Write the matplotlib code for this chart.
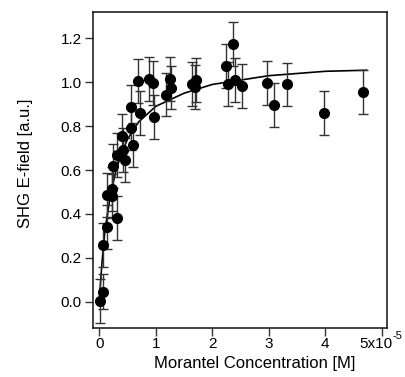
import matplotlib
matplotlib.use("Agg")
import matplotlib.pyplot as plt
import matplotlib.transforms as mtransforms

plt.rcParams['font.family'] = ['Liberation Sans', 'DejaVu Sans']

# Morantel concentration in units of 1e-5 M
conc = [0.01, 0.07, 0.07, 0.13, 0.13, 0.22, 0.23, 0.25, 0.32, 0.31,
        0.41, 0.43, 0.45, 0.555, 0.57, 0.59, 0.69, 0.72, 0.885, 0.945,
        0.968, 1.18, 1.25, 1.27, 1.635, 1.69, 1.72, 2.25, 2.28, 2.37,
        2.40, 2.53, 2.97, 3.10, 3.33, 3.98, 4.67]
shg = [0.003, 0.045, 0.257, 0.342, 0.485, 0.515, 0.48, 0.617, 0.67, 0.382,
       0.755, 0.69, 0.645, 0.888, 0.79, 0.715, 1.006, 0.858, 1.014, 0.998,
       0.842, 0.944, 1.014, 0.976, 0.994, 0.98, 1.01, 1.076, 0.994, 1.173,
       1.012, 0.983, 0.997, 0.898, 0.99, 0.858, 0.956]
err = [0.10, 0.08, 0.10, 0.10, 0.10, 0.10, 0.10, 0.10, 0.10, 0.10,
       0.10, 0.10, 0.10, 0.10, 0.10, 0.10, 0.10, 0.10, 0.10, 0.10,
       0.10, 0.10, 0.10, 0.10, 0.10, 0.10, 0.10, 0.10, 0.10, 0.10,
       0.10, 0.10, 0.10, 0.10, 0.10, 0.10, 0.10]

# fitted curve
fit_x = [0.0, 0.05, 0.1, 0.2, 0.3, 0.4, 0.5, 0.7, 1.0, 1.5, 2.0, 2.5, 3.0, 3.5, 4.0, 4.73]
fit_y = [0.0, 0.18, 0.32, 0.49, 0.60, 0.68, 0.74, 0.82, 0.89, 0.95, 0.99, 1.01, 1.03, 1.04, 1.05, 1.055]

xticks = [0, 1, 2, 3, 4, 5]
xticklabels = ['0', '1', '2', '3', '4', '']
last_label = '5x10'
last_exp = '-5'
yticks = [0.0, 0.2, 0.4, 0.6, 0.8, 1.0, 1.2]
yticklabels = ['0.0', '0.2', '0.4', '0.6', '0.8', '1.0', '1.2']

fig = plt.figure(figsize=(4.06, 3.77), dpi=100)
ax = fig.add_axes([0.229, 0.130, 0.724, 0.838])

ax.plot(fit_x, fit_y, color='black', lw=1.2, zorder=2)
ax.errorbar(conc, shg, yerr=err, fmt='o', color='black', ms=7,
            ecolor='#333333', elinewidth=1.0, capsize=3.5, capthick=1.0, zorder=3)

ax.set_xlim(-0.11, 5.09)
ax.set_ylim(-0.12, 1.32)
ax.set_xticks(xticks)
ax.set_xticklabels(xticklabels)
ax.set_yticks(yticks)
ax.set_yticklabels(yticklabels)
ax.tick_params(direction='out', length=6, width=1.0, labelsize=11, color='#333333')
ax.tick_params(axis='x', pad=0.5)
ax.tick_params(axis='y', pad=2)
for s in ax.spines.values():
    s.set_linewidth(1.1)
    s.set_color('#111111')

# last x tick label with exponent, aligned like the other tick labels
trans = mtransforms.blended_transform_factory(ax.transData, ax.transAxes)
offset = mtransforms.ScaledTranslation(0, -(6 + 0.5) / 72, fig.dpi_scale_trans)
ax.text(xticks[-1] - 0.11, 0, last_label, transform=trans + offset,
        ha='center', va='top', fontsize=11, clip_on=False)
ax.text(xticks[-1] + 0.19, 0, last_exp, transform=trans + offset + mtransforms.ScaledTranslation(0, 4 / 72, fig.dpi_scale_trans),
        ha='left', va='top', fontsize=8, clip_on=False)

ax.set_xlabel('Morantel Concentration [M]', fontsize=12)
ax.xaxis.set_label_coords(0.55, -0.09)
ax.set_ylabel('SHG E-field [a.u.]', fontsize=12)
ax.yaxis.set_label_coords(-0.205, 0.52)

fig.savefig('out.png', dpi=100)
